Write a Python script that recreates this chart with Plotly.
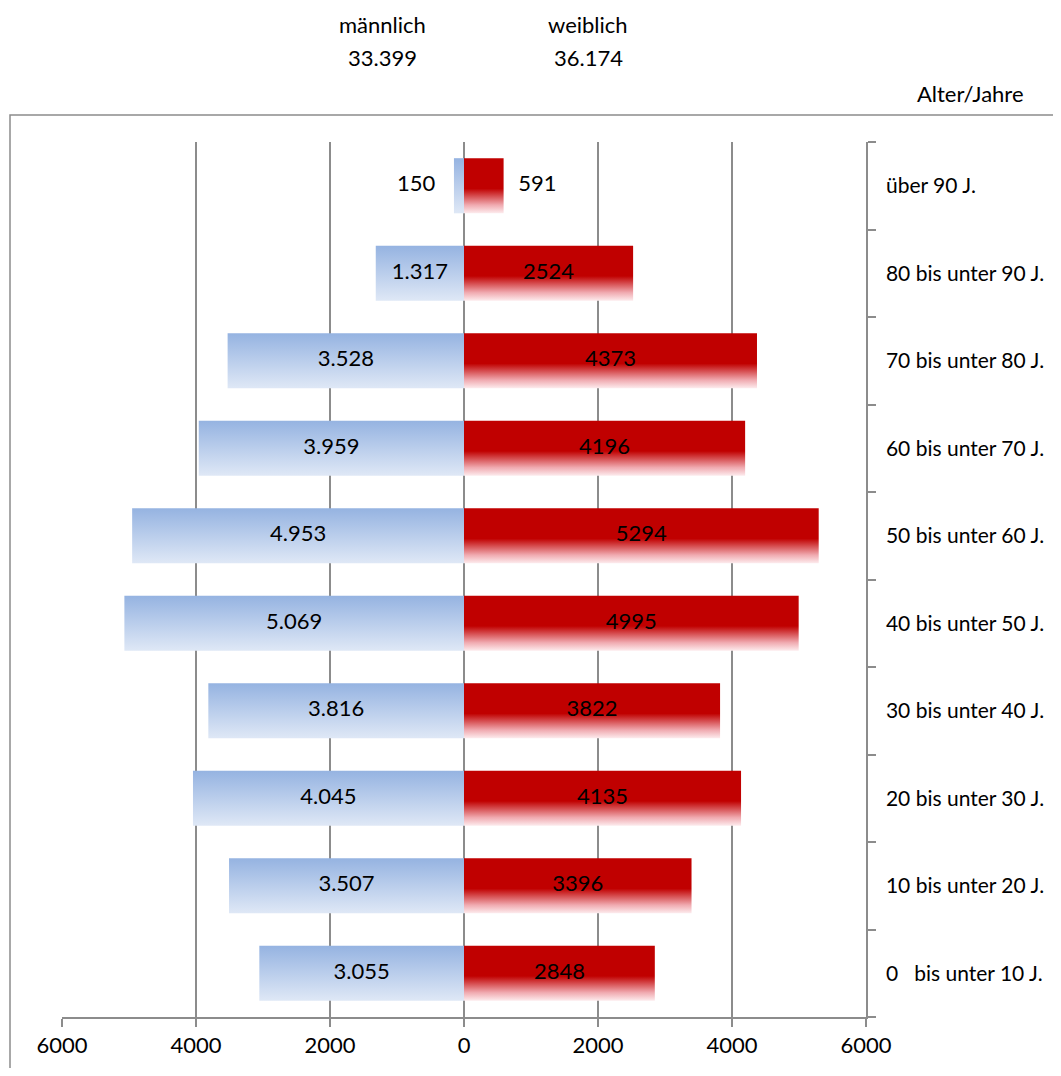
import plotly.graph_objects as go

# ---------------- data ----------------
categories = [
    "0\u00a0\u00a0\u00a0bis unter 10 J.",
    "10 bis unter 20 J.",
    "20 bis unter 30 J.",
    "30 bis unter 40 J.",
    "40 bis unter 50 J.",
    "50 bis unter 60 J.",
    "60 bis unter 70 J.",
    "70 bis unter 80 J.",
    "80 bis unter 90 J.",
    "über 90 J.",
]
male = [3055, 3507, 4045, 3816, 5069, 4953, 3959, 3528, 1317, 150]
female = [2848, 3396, 4135, 3822, 4995, 5294, 4196, 4373, 2524, 591]
x_tickvals = [-6000, -4000, -2000, 0, 2000, 4000, 6000]
x_ticktext = ["6000", "4000", "2000", "0", "2000", "4000", "6000"]
header_male = "männlich"
header_female = "weiblich"
axis_title = "Alter/Jahre"

# ---------------- style ----------------
FONT = "Lato"
FS = 22
FS_CAT = 21
GRAY = "#8c8c8c"
HALF = 0.315
BLUE_SCALE = [[0, "#dfe8f6"], [1, "#95b3e1"]]
RED_SCALE = [[0, "#fdecee"], [0.15, "#f0aab0"], [0.45, "#c00000"], [1, "#c00000"]]
OUTSIDE_LIMIT = 1000
OFF = 8  # page body margin
W, H = 1061 - 2 * OFF, 1076 - 2 * OFF
L, T = 62 - OFF, 142 - OFF
PW, PH = 804, 875


def de_fmt(v):
    return f"{v:,}".replace(",", ".")


fig = go.Figure()

for i, (m, f) in enumerate(zip(male, female)):
    y0, y1 = i - HALF, i + HALF
    fig.add_trace(go.Scatter(
        x=[0, -m, -m, 0, 0], y=[y0, y0, y1, y1, y0],
        mode="lines", line=dict(width=0), fill="toself",
        fillcolor="#c3d3ee",
        fillgradient=dict(type="vertical", colorscale=BLUE_SCALE),
        hoverinfo="skip", showlegend=False,
    ))
    fig.add_trace(go.Scatter(
        x=[0, f, f, 0, 0], y=[y0, y0, y1, y1, y0],
        mode="lines", line=dict(width=0), fill="toself",
        fillcolor="#c00000",
        fillgradient=dict(type="vertical", colorscale=RED_SCALE),
        hoverinfo="skip", showlegend=False,
    ))

ys = list(range(len(categories)))

# value labels
mx, mpos = [], []
for m in male:
    if m < OUTSIDE_LIMIT:
        mx.append(-m - 280)
        mpos.append("middle left")
    else:
        mx.append(-m / 2)
        mpos.append("middle center")
fx, fpos = [], []
for f in female:
    if f < OUTSIDE_LIMIT:
        fx.append(f + 220)
        fpos.append("middle right")
    else:
        fx.append(f / 2)
        fpos.append("middle center")

fig.add_trace(go.Scatter(
    x=mx, y=ys, mode="text", text=[de_fmt(v) for v in male],
    textposition=mpos, textfont=dict(family=FONT, size=FS, color="#000"),
    hoverinfo="skip", showlegend=False,
))
fig.add_trace(go.Scatter(
    x=fx, y=ys, mode="text", text=[str(v) for v in female],
    textposition=fpos, textfont=dict(family=FONT, size=FS, color="#000"),
    hoverinfo="skip", showlegend=False,
))

boundaries = [i - 0.5 for i in range(len(categories) + 1)]

fig.update_layout(
    width=W, height=H,
    margin=dict(l=L, r=W - L - PW, t=T, b=H - T - PH, autoexpand=False),
    paper_bgcolor="white", plot_bgcolor="white",
    font=dict(family=FONT, size=FS, color="#000"),
    showlegend=False,
    xaxis=dict(
        range=[-6000, 6000], tickvals=x_tickvals, ticktext=x_ticktext,
        automargin=False,
        showgrid=True, gridcolor=GRAY, gridwidth=1.5,
        zeroline=False, showline=True, linecolor=GRAY, linewidth=1.5,
        ticks="outside", ticklen=8, tickcolor=GRAY, tickwidth=1.5,
        tickfont=dict(family=FONT, size=FS), fixedrange=True,
    ),
    yaxis=dict(
        range=[-0.5, len(categories) - 0.5], side="right",
        automargin=False,
        tickvals=ys, ticktext=categories, ticks="", ticklabelstandoff=14,
        showgrid=False, zeroline=False,
        showline=True, linecolor=GRAY, linewidth=1.5,
        minor=dict(tickvals=boundaries, ticks="outside", ticklen=8,
                   tickcolor=GRAY, tickwidth=1.5, showgrid=False),
        tickfont=dict(family=FONT, size=FS_CAT), fixedrange=True,
    ),
)

# outer frame
fig.add_shape(type="rect", xref="paper", yref="paper",
              x0=(10 - 62) / PW, x1=1.4, y0=-0.2, y1=(1017 - 115) / PH,
              line=dict(color=GRAY, width=1.5), fillcolor="rgba(0,0,0,0)",
              layer="below")

annots = [
    (header_male, 382, 24), (de_fmt(sum(male)), 382, 58),
    (header_female, 588, 24), (de_fmt(sum(female)), 588, 58),
    (axis_title, 970, 94),
]
for txt, px, py in annots:
    fig.add_annotation(text=txt, xref="paper", yref="paper",
                       x=(px - 62) / PW, y=(1017 - py) / PH,
                       xanchor="center", yanchor="middle", showarrow=False,
                       font=dict(family=FONT, size=FS, color="#000"))

fig.write_html("out.html")
